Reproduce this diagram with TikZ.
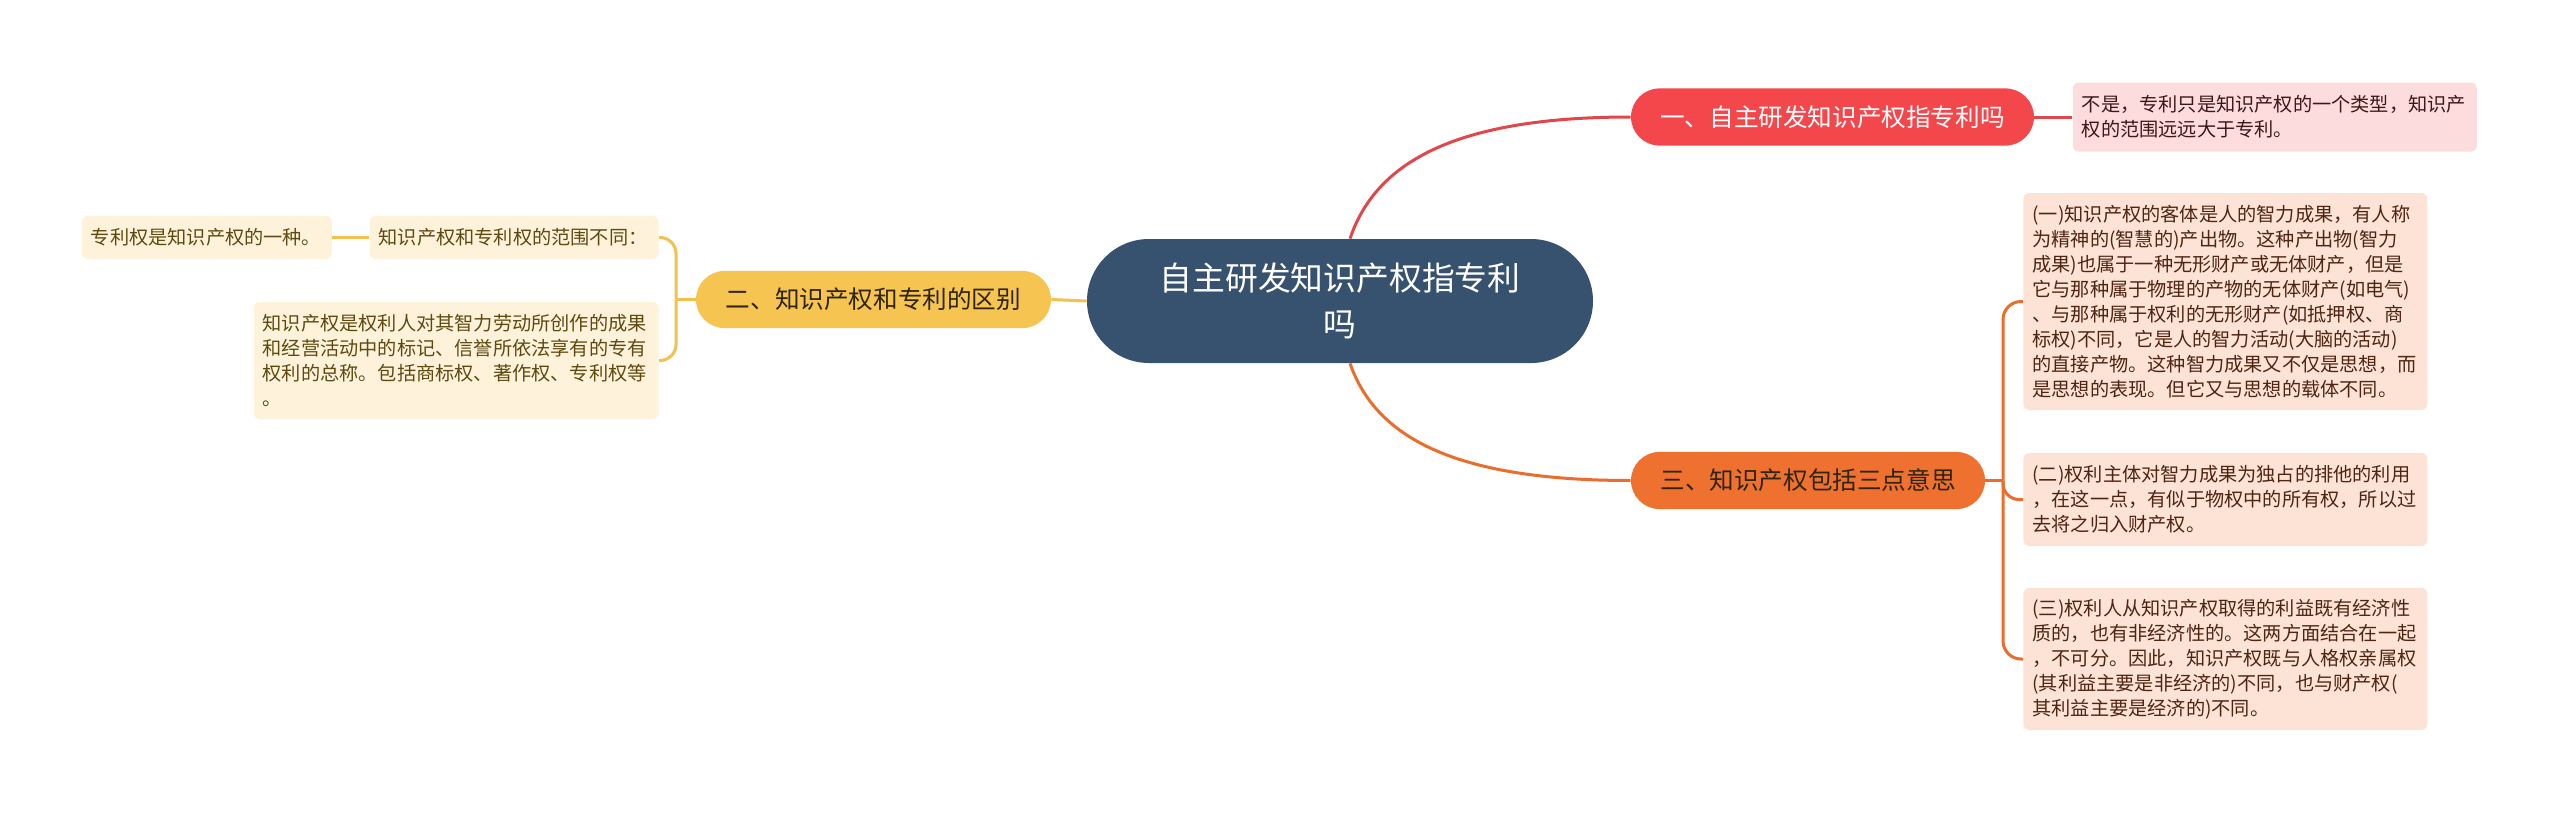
\documentclass[tikz,border=0pt]{standalone}
\usepackage{fontspec}
\setmainfont{Noto Sans CJK SC}
\usepackage{tikz}
\usetikzlibrary{positioning,calc}
\definecolor{rootblue}{HTML}{37526E}
\definecolor{topicred}{HTML}{F4474C}
\definecolor{topicyel}{HTML}{F5C451}
\definecolor{topicora}{HTML}{EE712F}
\definecolor{leafred}{HTML}{FCDCDC}
\definecolor{leafyel}{HTML}{FEF3DA}
\definecolor{leafora}{HTML}{FCE3D5}
\definecolor{txtred}{HTML}{3D1818}
\definecolor{txtyel}{HTML}{5E4A10}
\definecolor{txtora}{HTML}{4F2512}
\definecolor{txtdark}{HTML}{2E2410}
\definecolor{linkred}{HTML}{E0474B}
\definecolor{linkyel}{HTML}{F2C14F}
\definecolor{linkora}{HTML}{E96E2B}

\begin{document}
\begin{tikzpicture}[x=0.5pt,y=-0.5pt,
  every node/.style={inner sep=0pt},
  root/.style={fill=rootblue,text=white,rounded corners=31pt,minimum width=253pt,minimum height=62pt,align=center,font=\fontsize{16.4}{23}\selectfont},
  topic/.style={rounded corners=14.3pt,minimum height=28.6pt,align=center,font=\fontsize{12.3}{15}\selectfont},
  leaf/.style={rounded corners=3pt,inner xsep=4.5pt,align=left,font=\fontsize{9.6}{12.5}\selectfont},
  rleaf/.style={leaf,fill=leafred,text=txtred},
  yleaf/.style={leaf,fill=leafyel,text=txtyel},
  oleaf/.style={leaf,fill=leafora,text=txtora,text width=193pt},
  lnk/.style={line width=1.5pt}]
\useasboundingbox (0,0) rectangle (2560,814);
\fill[white] (0,0) rectangle (2560,814);

\node[root] (ctr) at (1340,301) {自主研发知识产权指专利\\吗};

\node[topic,fill=topicred,text=white,minimum width=201.5pt] (t1) at (1832.5,117) {一、自主研发知识产权指专利吗};
\node[topic,fill=topicyel,text=txtdark,minimum width=177.5pt] (t2) at (873.5,299.5) {二、知识产权和专利的区别};
\node[topic,fill=topicora,text=txtdark,minimum width=177pt] (t3) at (1808,480.5) {三、知识产权包括三点意思};

\node[rleaf,text width=193pt,minimum height=34.5pt,right=19pt of t1] (r1) {不是，专利只是知识产权的一个类型，知识产\\权的范围远远大于专利。};

\node[yleaf,text width=135.5pt,minimum height=21.5pt,anchor=east] (y2) at (659,237.5) {知识产权和专利权的范围不同：};
\node[yleaf,text width=116pt,minimum height=21.5pt,left=18.5pt of y2] (y1) {专利权是知识产权的一种。};
\node[yleaf,text width=193.5pt,minimum height=58.5pt,anchor=east] (y3) at (659,360.5) {知识产权是权利人对其智力劳动所创作的成果\\和经营活动中的标记、信誉所依法享有的专有\\权利的总称。包括商标权、著作权、专利权等\\。};

\node[oleaf,minimum height=108.5pt,anchor=west] (o1) at (2023,301.5) {(一)知识产权的客体是人的智力成果，有人称\\为精神的(智慧的)产出物。这种产出物(智力\\成果)也属于一种无形财产或无体财产，但是\\它与那种属于物理的产物的无体财产(如电气)\\、与那种属于权利的无形财产(如抵押权、商\\标权)不同，它是人的智力活动(大脑的活动)\\的直接产物。这种智力成果又不仅是思想，而\\是思想的表现。但它又与思想的载体不同。};
\node[oleaf,minimum height=46.5pt,anchor=west] (o2) at (2023,499.5) {(二)权利主体对智力成果为独占的排他的利用\\，在这一点，有似于物权中的所有权，所以过\\去将之归入财产权。};
\node[oleaf,minimum height=71pt,anchor=west] (o3) at (2023,659) {(三)权利人从知识产权取得的利益既有经济性\\质的，也有非经济性的。这两方面结合在一起\\，不可分。因此，知识产权既与人格权亲属权\\(其利益主要是非经济的)不同，也与财产权(\\其利益主要是经济的)不同。};

\coordinate (yb) at (676,299.5);
\coordinate (ob) at (2003,480.5);

\draw[lnk,linkred] ([xshift=5pt]ctr.north) .. controls (1375,165) and (1450,117) .. (t1.west);
\draw[lnk,linkred] (t1.east) -- (r1.west);
\draw[lnk,linkyel] (ctr.west) -- (t2.east);
\draw[lnk,linkyel] (t2.west) -- (yb);
\draw[lnk,linkyel,rounded corners=8pt] (yb) |- (y2.east);
\draw[lnk,linkyel,rounded corners=8pt] (yb) |- (y3.east);
\draw[lnk,linkyel] (y1.east) -- (y2.west);
\draw[lnk,linkora] ([xshift=5pt]ctr.south) .. controls (1375,435) and (1450,480.5) .. (t3.west);
\draw[lnk,linkora] (t3.east) -- (ob);
\draw[lnk,linkora,rounded corners=9pt] (ob) |- (o1.west);
\draw[lnk,linkora,rounded corners=8pt] (ob) |- (o2.west);
\draw[lnk,linkora,rounded corners=9pt] (ob) |- (o3.west);
\end{tikzpicture}
\end{document}
